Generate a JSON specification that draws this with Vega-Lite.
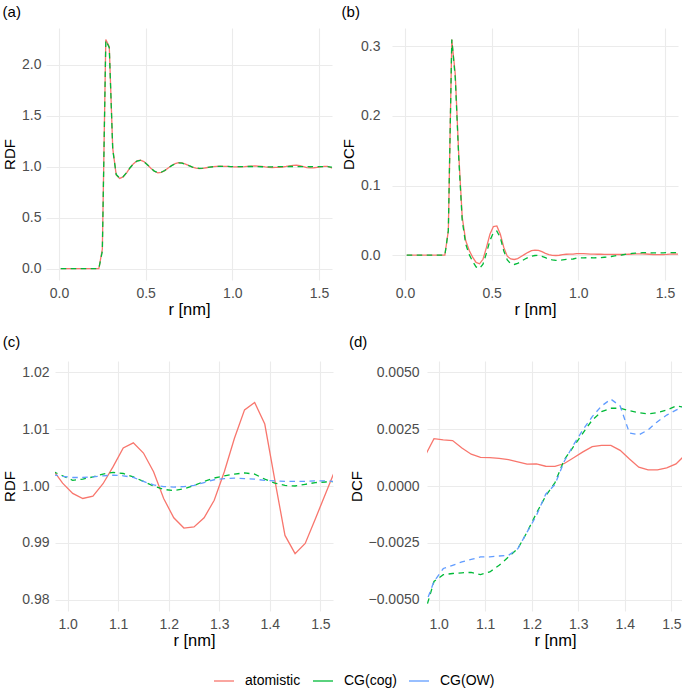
{
"$schema":"https://vega.github.io/schema/vega-lite/v6.json",
"background":"white",
"padding":{"left":1,"top":5,"right":0,"bottom":0},
"datasets":{
"rdf":[
{"r":0.01,"series":"atomistic","value":0},{"r":0.03,"series":"atomistic","value":0},{"r":0.05,"series":"atomistic","value":0},{"r":0.07,"series":"atomistic","value":0},{"r":0.09,"series":"atomistic","value":0},{"r":0.11,"series":"atomistic","value":0},{"r":0.13,"series":"atomistic","value":0},{"r":0.15,"series":"atomistic","value":0},{"r":0.17,"series":"atomistic","value":0},{"r":0.19,"series":"atomistic","value":0},{"r":0.21,"series":"atomistic","value":0},{"r":0.23,"series":"atomistic","value":0},
{"r":0.25,"series":"atomistic","value":0.19},{"r":0.27,"series":"atomistic","value":2.25},{"r":0.29,"series":"atomistic","value":2.18},{"r":0.31,"series":"atomistic","value":1.18},{"r":0.33,"series":"atomistic","value":0.92},{"r":0.35,"series":"atomistic","value":0.885},{"r":0.37,"series":"atomistic","value":0.9},{"r":0.39,"series":"atomistic","value":0.94},{"r":0.41,"series":"atomistic","value":0.99},{"r":0.43,"series":"atomistic","value":1.03},{"r":0.45,"series":"atomistic","value":1.058},{"r":0.47,"series":"atomistic","value":1.065},{"r":0.49,"series":"atomistic","value":1.05},{"r":0.51,"series":"atomistic","value":1.02},{"r":0.53,"series":"atomistic","value":0.985},{"r":0.55,"series":"atomistic","value":0.955},{"r":0.57,"series":"atomistic","value":0.94},{"r":0.59,"series":"atomistic","value":0.945},{"r":0.61,"series":"atomistic","value":0.962},{"r":0.63,"series":"atomistic","value":0.987},{"r":0.65,"series":"atomistic","value":1.012},{"r":0.67,"series":"atomistic","value":1.03},{"r":0.69,"series":"atomistic","value":1.04},{"r":0.71,"series":"atomistic","value":1.037},{"r":0.73,"series":"atomistic","value":1.025},{"r":0.75,"series":"atomistic","value":1.01},{"r":0.77,"series":"atomistic","value":0.996},{"r":0.79,"series":"atomistic","value":0.986},{"r":0.81,"series":"atomistic","value":0.982},{"r":0.83,"series":"atomistic","value":0.984},{"r":0.85,"series":"atomistic","value":0.99},{"r":0.87,"series":"atomistic","value":0.996},{"r":0.89,"series":"atomistic","value":1.001},{"r":0.91,"series":"atomistic","value":1.004},{"r":0.93,"series":"atomistic","value":1.005},{"r":0.95,"series":"atomistic","value":1.004},
{"r":0.97,"series":"atomistic","value":1.003},{"r":0.99,"series":"atomistic","value":1.0005},{"r":1.01,"series":"atomistic","value":0.9987},{"r":1.03,"series":"atomistic","value":0.9978},{"r":1.05,"series":"atomistic","value":0.9982},{"r":1.07,"series":"atomistic","value":1.0004},{"r":1.09,"series":"atomistic","value":1.0034},{"r":1.11,"series":"atomistic","value":1.0067},{"r":1.13,"series":"atomistic","value":1.0076},{"r":1.15,"series":"atomistic","value":1.0058},{"r":1.17,"series":"atomistic","value":1.0025},{"r":1.19,"series":"atomistic","value":0.9978},{"r":1.21,"series":"atomistic","value":0.9944},{"r":1.23,"series":"atomistic","value":0.9926},{"r":1.25,"series":"atomistic","value":0.9928},{"r":1.27,"series":"atomistic","value":0.9944},{"r":1.29,"series":"atomistic","value":0.9975},{"r":1.31,"series":"atomistic","value":1.0025},{"r":1.33,"series":"atomistic","value":1.0084},{"r":1.35,"series":"atomistic","value":1.0134},{"r":1.37,"series":"atomistic","value":1.0147},{"r":1.39,"series":"atomistic","value":1.0109},{"r":1.41,"series":"atomistic","value":1.001},{"r":1.43,"series":"atomistic","value":0.9913},{"r":1.45,"series":"atomistic","value":0.9881},{"r":1.47,"series":"atomistic","value":0.9899},{"r":1.49,"series":"atomistic","value":0.9942},{"r":1.51,"series":"atomistic","value":0.9986},{"r":1.53,"series":"atomistic","value":1.003},{"r":1.55,"series":"atomistic","value":1.004},{"r":1.57,"series":"atomistic","value":0.99},{"r":1.59,"series":"atomistic","value":0.975},
{"r":0.01,"series":"CG(cog)","value":0},{"r":0.03,"series":"CG(cog)","value":0},{"r":0.05,"series":"CG(cog)","value":0},{"r":0.07,"series":"CG(cog)","value":0},{"r":0.09,"series":"CG(cog)","value":0},{"r":0.11,"series":"CG(cog)","value":0},{"r":0.13,"series":"CG(cog)","value":0},{"r":0.15,"series":"CG(cog)","value":0},{"r":0.17,"series":"CG(cog)","value":0},{"r":0.19,"series":"CG(cog)","value":0},{"r":0.21,"series":"CG(cog)","value":0},{"r":0.23,"series":"CG(cog)","value":0},
{"r":0.25,"series":"CG(cog)","value":0.17},{"r":0.27,"series":"CG(cog)","value":2.24},{"r":0.29,"series":"CG(cog)","value":2.17},{"r":0.31,"series":"CG(cog)","value":1.17},{"r":0.33,"series":"CG(cog)","value":0.925},{"r":0.35,"series":"CG(cog)","value":0.887},{"r":0.37,"series":"CG(cog)","value":0.902},{"r":0.39,"series":"CG(cog)","value":0.942},{"r":0.41,"series":"CG(cog)","value":0.99},{"r":0.43,"series":"CG(cog)","value":1.029},{"r":0.45,"series":"CG(cog)","value":1.056},{"r":0.47,"series":"CG(cog)","value":1.063},{"r":0.49,"series":"CG(cog)","value":1.049},{"r":0.51,"series":"CG(cog)","value":1.02},{"r":0.53,"series":"CG(cog)","value":0.986},{"r":0.55,"series":"CG(cog)","value":0.957},{"r":0.57,"series":"CG(cog)","value":0.942},{"r":0.59,"series":"CG(cog)","value":0.946},{"r":0.61,"series":"CG(cog)","value":0.963},{"r":0.63,"series":"CG(cog)","value":0.987},{"r":0.65,"series":"CG(cog)","value":1.011},{"r":0.67,"series":"CG(cog)","value":1.029},{"r":0.69,"series":"CG(cog)","value":1.038},{"r":0.71,"series":"CG(cog)","value":1.035},{"r":0.73,"series":"CG(cog)","value":1.024},{"r":0.75,"series":"CG(cog)","value":1.01},{"r":0.77,"series":"CG(cog)","value":0.997},{"r":0.79,"series":"CG(cog)","value":0.988},{"r":0.81,"series":"CG(cog)","value":0.984},{"r":0.83,"series":"CG(cog)","value":0.986},{"r":0.85,"series":"CG(cog)","value":0.991},{"r":0.87,"series":"CG(cog)","value":0.996},{"r":0.89,"series":"CG(cog)","value":1.0},{"r":0.91,"series":"CG(cog)","value":1.003},{"r":0.93,"series":"CG(cog)","value":1.004},{"r":0.95,"series":"CG(cog)","value":1.004},
{"r":0.97,"series":"CG(cog)","value":1.0026},{"r":0.99,"series":"CG(cog)","value":1.0018},{"r":1.01,"series":"CG(cog)","value":1.001},{"r":1.03,"series":"CG(cog)","value":1.0012},{"r":1.05,"series":"CG(cog)","value":1.0016},{"r":1.07,"series":"CG(cog)","value":1.0021},{"r":1.09,"series":"CG(cog)","value":1.0024},{"r":1.11,"series":"CG(cog)","value":1.0022},{"r":1.13,"series":"CG(cog)","value":1.0016},{"r":1.15,"series":"CG(cog)","value":1.0008},{"r":1.17,"series":"CG(cog)","value":1.0},{"r":1.19,"series":"CG(cog)","value":0.9994},{"r":1.21,"series":"CG(cog)","value":0.9992},{"r":1.23,"series":"CG(cog)","value":0.9995},{"r":1.25,"series":"CG(cog)","value":1.0001},{"r":1.27,"series":"CG(cog)","value":1.0008},{"r":1.29,"series":"CG(cog)","value":1.0014},{"r":1.31,"series":"CG(cog)","value":1.0018},{"r":1.33,"series":"CG(cog)","value":1.0021},{"r":1.35,"series":"CG(cog)","value":1.0023},{"r":1.37,"series":"CG(cog)","value":1.0021},{"r":1.39,"series":"CG(cog)","value":1.0012},{"r":1.41,"series":"CG(cog)","value":1.0005},{"r":1.43,"series":"CG(cog)","value":1.0001},{"r":1.45,"series":"CG(cog)","value":1.0},{"r":1.47,"series":"CG(cog)","value":1.0003},{"r":1.49,"series":"CG(cog)","value":1.0006},{"r":1.51,"series":"CG(cog)","value":1.0007},{"r":1.53,"series":"CG(cog)","value":1.0008},{"r":1.55,"series":"CG(cog)","value":1.0005},{"r":1.57,"series":"CG(cog)","value":0.997},{"r":1.59,"series":"CG(cog)","value":0.99},
{"r":0.97,"series":"CG(OW)","value":1.002},{"r":0.99,"series":"CG(OW)","value":1.0017},{"r":1.01,"series":"CG(OW)","value":1.0015},{"r":1.03,"series":"CG(OW)","value":1.0015},{"r":1.05,"series":"CG(OW)","value":1.0016},{"r":1.07,"series":"CG(OW)","value":1.0018},{"r":1.09,"series":"CG(OW)","value":1.0019},{"r":1.11,"series":"CG(OW)","value":1.0018},{"r":1.13,"series":"CG(OW)","value":1.0015},{"r":1.15,"series":"CG(OW)","value":1.0008},{"r":1.17,"series":"CG(OW)","value":1.0002},{"r":1.19,"series":"CG(OW)","value":0.9999},{"r":1.21,"series":"CG(OW)","value":0.9998},{"r":1.23,"series":"CG(OW)","value":0.9999},{"r":1.25,"series":"CG(OW)","value":1.0001},{"r":1.27,"series":"CG(OW)","value":1.0006},{"r":1.29,"series":"CG(OW)","value":1.0011},{"r":1.31,"series":"CG(OW)","value":1.0013},{"r":1.33,"series":"CG(OW)","value":1.0014},{"r":1.35,"series":"CG(OW)","value":1.0013},{"r":1.37,"series":"CG(OW)","value":1.0012},{"r":1.39,"series":"CG(OW)","value":1.001},{"r":1.41,"series":"CG(OW)","value":1.0009},{"r":1.43,"series":"CG(OW)","value":1.0008},{"r":1.45,"series":"CG(OW)","value":1.0008},{"r":1.47,"series":"CG(OW)","value":1.0008},{"r":1.49,"series":"CG(OW)","value":1.0009},{"r":1.51,"series":"CG(OW)","value":1.0009},{"r":1.53,"series":"CG(OW)","value":1.0008}
],
"dcf":[
{"r":0.01,"series":"atomistic","value":0},{"r":0.03,"series":"atomistic","value":0},{"r":0.05,"series":"atomistic","value":0},{"r":0.07,"series":"atomistic","value":0},{"r":0.09,"series":"atomistic","value":0},{"r":0.11,"series":"atomistic","value":0},{"r":0.13,"series":"atomistic","value":0},{"r":0.15,"series":"atomistic","value":0},{"r":0.17,"series":"atomistic","value":0},{"r":0.19,"series":"atomistic","value":0},{"r":0.21,"series":"atomistic","value":0},{"r":0.23,"series":"atomistic","value":0},
{"r":0.25,"series":"atomistic","value":0.035},{"r":0.27,"series":"atomistic","value":0.31},{"r":0.29,"series":"atomistic","value":0.26},{"r":0.31,"series":"atomistic","value":0.145},{"r":0.33,"series":"atomistic","value":0.055},{"r":0.35,"series":"atomistic","value":0.021},{"r":0.37,"series":"atomistic","value":0.007},{"r":0.39,"series":"atomistic","value":-0.003},{"r":0.41,"series":"atomistic","value":-0.0105},{"r":0.43,"series":"atomistic","value":-0.0125},{"r":0.45,"series":"atomistic","value":-0.006},{"r":0.47,"series":"atomistic","value":0.011},{"r":0.49,"series":"atomistic","value":0.03},{"r":0.51,"series":"atomistic","value":0.041},{"r":0.53,"series":"atomistic","value":0.042},{"r":0.55,"series":"atomistic","value":0.03},{"r":0.57,"series":"atomistic","value":0.011},{"r":0.59,"series":"atomistic","value":-0.0015},{"r":0.61,"series":"atomistic","value":-0.0055},{"r":0.63,"series":"atomistic","value":-0.0063},{"r":0.65,"series":"atomistic","value":-0.005},{"r":0.67,"series":"atomistic","value":-0.002},{"r":0.69,"series":"atomistic","value":0.001},{"r":0.71,"series":"atomistic","value":0.004},{"r":0.73,"series":"atomistic","value":0.0063},{"r":0.75,"series":"atomistic","value":0.0072},{"r":0.77,"series":"atomistic","value":0.0068},{"r":0.79,"series":"atomistic","value":0.005},{"r":0.81,"series":"atomistic","value":0.0025},{"r":0.83,"series":"atomistic","value":0.0008},{"r":0.85,"series":"atomistic","value":-0.0003},{"r":0.87,"series":"atomistic","value":-0.0006},{"r":0.89,"series":"atomistic","value":-0.0002},{"r":0.91,"series":"atomistic","value":0.0006},{"r":0.93,"series":"atomistic","value":0.0012},{"r":0.95,"series":"atomistic","value":0.0014},
{"r":0.97,"series":"atomistic","value":0.0013},{"r":0.99,"series":"atomistic","value":0.00208},{"r":1.01,"series":"atomistic","value":0.00203},{"r":1.03,"series":"atomistic","value":0.002},{"r":1.05,"series":"atomistic","value":0.00167},{"r":1.07,"series":"atomistic","value":0.0014},{"r":1.09,"series":"atomistic","value":0.00126},{"r":1.11,"series":"atomistic","value":0.00125},{"r":1.13,"series":"atomistic","value":0.00122},{"r":1.15,"series":"atomistic","value":0.00116},{"r":1.17,"series":"atomistic","value":0.00106},{"r":1.19,"series":"atomistic","value":0.00096},{"r":1.21,"series":"atomistic","value":0.00097},{"r":1.23,"series":"atomistic","value":0.00087},{"r":1.25,"series":"atomistic","value":0.00086},{"r":1.27,"series":"atomistic","value":0.00099},{"r":1.29,"series":"atomistic","value":0.00124},{"r":1.31,"series":"atomistic","value":0.0015},{"r":1.33,"series":"atomistic","value":0.00173},{"r":1.35,"series":"atomistic","value":0.00179},{"r":1.37,"series":"atomistic","value":0.00179},{"r":1.39,"series":"atomistic","value":0.00157},{"r":1.41,"series":"atomistic","value":0.00119},{"r":1.43,"series":"atomistic","value":0.00083},{"r":1.45,"series":"atomistic","value":0.00071},{"r":1.47,"series":"atomistic","value":0.00071},{"r":1.49,"series":"atomistic","value":0.0008},{"r":1.51,"series":"atomistic","value":0.00097},{"r":1.53,"series":"atomistic","value":0.00138},{"r":1.55,"series":"atomistic","value":0.0016},{"r":1.57,"series":"atomistic","value":0.0015},{"r":1.59,"series":"atomistic","value":0.0013},
{"r":0.01,"series":"CG(cog)","value":0},{"r":0.03,"series":"CG(cog)","value":0},{"r":0.05,"series":"CG(cog)","value":0},{"r":0.07,"series":"CG(cog)","value":0},{"r":0.09,"series":"CG(cog)","value":0},{"r":0.11,"series":"CG(cog)","value":0},{"r":0.13,"series":"CG(cog)","value":0},{"r":0.15,"series":"CG(cog)","value":0},{"r":0.17,"series":"CG(cog)","value":0},{"r":0.19,"series":"CG(cog)","value":0},{"r":0.21,"series":"CG(cog)","value":0},{"r":0.23,"series":"CG(cog)","value":0},
{"r":0.25,"series":"CG(cog)","value":0.035},{"r":0.27,"series":"CG(cog)","value":0.31},{"r":0.29,"series":"CG(cog)","value":0.255},{"r":0.31,"series":"CG(cog)","value":0.14},{"r":0.33,"series":"CG(cog)","value":0.05},{"r":0.35,"series":"CG(cog)","value":0.016},{"r":0.37,"series":"CG(cog)","value":0.001},{"r":0.39,"series":"CG(cog)","value":-0.009},{"r":0.41,"series":"CG(cog)","value":-0.017},{"r":0.43,"series":"CG(cog)","value":-0.0193},{"r":0.45,"series":"CG(cog)","value":-0.013},{"r":0.47,"series":"CG(cog)","value":0.003},{"r":0.49,"series":"CG(cog)","value":0.021},{"r":0.51,"series":"CG(cog)","value":0.032},{"r":0.53,"series":"CG(cog)","value":0.0345},{"r":0.55,"series":"CG(cog)","value":0.025},{"r":0.57,"series":"CG(cog)","value":0.006},{"r":0.59,"series":"CG(cog)","value":-0.007},{"r":0.61,"series":"CG(cog)","value":-0.0125},{"r":0.63,"series":"CG(cog)","value":-0.0135},{"r":0.65,"series":"CG(cog)","value":-0.012},{"r":0.67,"series":"CG(cog)","value":-0.009},{"r":0.69,"series":"CG(cog)","value":-0.006},{"r":0.71,"series":"CG(cog)","value":-0.0035},{"r":0.73,"series":"CG(cog)","value":-0.0015},{"r":0.75,"series":"CG(cog)","value":-0.0006},{"r":0.77,"series":"CG(cog)","value":-0.0005},{"r":0.79,"series":"CG(cog)","value":-0.0017},{"r":0.81,"series":"CG(cog)","value":-0.0037},{"r":0.83,"series":"CG(cog)","value":-0.0057},{"r":0.85,"series":"CG(cog)","value":-0.007},{"r":0.87,"series":"CG(cog)","value":-0.0076},{"r":0.89,"series":"CG(cog)","value":-0.0074},{"r":0.91,"series":"CG(cog)","value":-0.0068},{"r":0.93,"series":"CG(cog)","value":-0.0062},{"r":0.95,"series":"CG(cog)","value":-0.0058},
{"r":0.97,"series":"CG(cog)","value":-0.0056},{"r":0.99,"series":"CG(cog)","value":-0.0042},{"r":1.01,"series":"CG(cog)","value":-0.0039},{"r":1.03,"series":"CG(cog)","value":-0.00385},{"r":1.05,"series":"CG(cog)","value":-0.00382},{"r":1.07,"series":"CG(cog)","value":-0.0038},{"r":1.09,"series":"CG(cog)","value":-0.0039},{"r":1.11,"series":"CG(cog)","value":-0.00378},{"r":1.13,"series":"CG(cog)","value":-0.00349},{"r":1.15,"series":"CG(cog)","value":-0.00312},{"r":1.17,"series":"CG(cog)","value":-0.00276},{"r":1.19,"series":"CG(cog)","value":-0.00203},{"r":1.21,"series":"CG(cog)","value":-0.0012},{"r":1.23,"series":"CG(cog)","value":-0.00044},{"r":1.25,"series":"CG(cog)","value":0.00015},{"r":1.27,"series":"CG(cog)","value":0.00116},{"r":1.29,"series":"CG(cog)","value":0.00174},{"r":1.31,"series":"CG(cog)","value":0.00233},{"r":1.33,"series":"CG(cog)","value":0.0029},{"r":1.35,"series":"CG(cog)","value":0.00327},{"r":1.37,"series":"CG(cog)","value":0.00342},{"r":1.39,"series":"CG(cog)","value":0.00342},{"r":1.41,"series":"CG(cog)","value":0.00331},{"r":1.43,"series":"CG(cog)","value":0.00323},{"r":1.45,"series":"CG(cog)","value":0.00317},{"r":1.47,"series":"CG(cog)","value":0.00323},{"r":1.49,"series":"CG(cog)","value":0.00334},{"r":1.51,"series":"CG(cog)","value":0.00352},{"r":1.53,"series":"CG(cog)","value":0.00346},{"r":1.55,"series":"CG(cog)","value":0.0035},{"r":1.57,"series":"CG(cog)","value":0.0036},{"r":1.59,"series":"CG(cog)","value":0.0036},
{"r":0.97,"series":"CG(OW)","value":-0.0053},{"r":0.99,"series":"CG(OW)","value":-0.0042},{"r":1.01,"series":"CG(OW)","value":-0.00363},{"r":1.03,"series":"CG(OW)","value":-0.00349},{"r":1.05,"series":"CG(OW)","value":-0.00334},{"r":1.07,"series":"CG(OW)","value":-0.00323},{"r":1.09,"series":"CG(OW)","value":-0.00312},{"r":1.11,"series":"CG(OW)","value":-0.00312},{"r":1.13,"series":"CG(OW)","value":-0.00308},{"r":1.15,"series":"CG(OW)","value":-0.00305},{"r":1.17,"series":"CG(OW)","value":-0.00276},{"r":1.19,"series":"CG(OW)","value":-0.00203},{"r":1.21,"series":"CG(OW)","value":-0.0013},{"r":1.23,"series":"CG(OW)","value":-0.00036},{"r":1.25,"series":"CG(OW)","value":0.00007},{"r":1.27,"series":"CG(OW)","value":0.00109},{"r":1.29,"series":"CG(OW)","value":0.00182},{"r":1.31,"series":"CG(OW)","value":0.00247},{"r":1.33,"series":"CG(OW)","value":0.00305},{"r":1.35,"series":"CG(OW)","value":0.00352},{"r":1.37,"series":"CG(OW)","value":0.00382},{"r":1.39,"series":"CG(OW)","value":0.00352},{"r":1.41,"series":"CG(OW)","value":0.00233},{"r":1.43,"series":"CG(OW)","value":0.00225},{"r":1.45,"series":"CG(OW)","value":0.00247},{"r":1.47,"series":"CG(OW)","value":0.00283},{"r":1.49,"series":"CG(OW)","value":0.00312},{"r":1.51,"series":"CG(OW)","value":0.00334},{"r":1.53,"series":"CG(OW)","value":0.00352}
]
},
"config":{
"font":"Liberation Sans",
"view":{"stroke":null},
"axis":{"domain":false,"ticks":false,"grid":true,"gridColor":"#EBEBEB","gridWidth":1.1,"labelFont":"Liberation Sans","labelFontSize":14,"labelColor":"#4D4D4D","labelPadding":7,"labelFlush":false,"labelOverlap":false,"titleFont":"Liberation Sans","titleFontWeight":"normal","titleColor":"#000000","titlePadding":4},
"axisX":{"titleFontSize":16.5,"titlePadding":1.5,"labelPadding":6},
"axisY":{"titleFontSize":15},
"title":{"font":"Liberation Sans","fontSize":15,"fontWeight":"normal","anchor":"start","offset":8,"color":"#000000"},
"line":{"strokeWidth":1.3}
},
"spacing":17,
"vconcat":[
{"spacing":0,"hconcat":[
{"width":1,"height":1,"data":{"values":[]},"mark":{"type":"point","opacity":0}},
{"spacing":9,"hconcat":[
{"title":"(a)","width":286,"height":252,"data":{"name":"rdf"},
"transform":[{"filter":"datum.series !== 'CG(OW)'"}],
"layer":[
{"transform":[{"filter":"false"}],"mark":{"type":"line"},
"encoding":{
"x":{"field":"r","type":"quantitative","scale":{"domain":[-0.075,1.575],"nice":false,"zero":false},"axis":{"values":[0,0.5,1,1.5],"format":".1f","title":"r [nm]"}},
"y":{"field":"value","type":"quantitative","scale":{"domain":[-0.1125,2.3625],"nice":false,"zero":false},"axis":{"values":[0,0.5,1,1.5,2],"format":".1f","title":"RDF","labelPadding":5}},
"color":{"field":"series","type":"nominal","scale":{"domain":["atomistic","CG(cog)","CG(OW)"],"range":["#F8766D","#00BA38","#619CFF"]},
"legend":{"title":null,"orient":"none","legendX":212,"legendY":642,"direction":"horizontal","symbolType":"stroke","symbolSize":400,"symbolStrokeWidth":1.3,"labelFontSize":14,"labelFont":"Liberation Sans","labelColor":"#000000","labelOffset":10,"columnPadding":9,"padding":0}}
}},
{"transform":[{"filter":"datum.series === 'atomistic'"}],"mark":{"type":"line","clip":true},
"encoding":{
"x":{"field":"r","type":"quantitative","scale":{"domain":[-0.075,1.575],"nice":false,"zero":false},"axis":null},
"y":{"field":"value","type":"quantitative","scale":{"domain":[-0.1125,2.3625],"nice":false,"zero":false},"axis":null},
"color":{"field":"series","type":"nominal","scale":{"domain":["atomistic","CG(cog)","CG(OW)"],"range":["#F8766D","#00BA38","#619CFF"]},"legend":null}
}},
{"transform":[{"filter":"datum.series !== 'atomistic'"}],"mark":{"type":"line","clip":true,"strokeDash":[5.5,4.5]},
"encoding":{
"x":{"field":"r","type":"quantitative","scale":{"domain":[-0.075,1.575],"nice":false,"zero":false},"axis":null},
"y":{"field":"value","type":"quantitative","scale":{"domain":[-0.1125,2.3625],"nice":false,"zero":false},"axis":null},
"color":{"field":"series","type":"nominal","scale":{"domain":["atomistic","CG(cog)","CG(OW)"],"range":["#F8766D","#00BA38","#619CFF"]},"legend":null}
}},
{"mark":{"type":"point","opacity":0,"clip":true},
"encoding":{
"x":{"field":"r","type":"quantitative","scale":{"domain":[-0.075,1.575],"nice":false,"zero":false},"axis":{"orient":"top","values":[0.25,0.75,1.25],"labels":false,"title":null,"gridWidth":0.55}},
"y":{"field":"value","type":"quantitative","scale":{"domain":[-0.1125,2.3625],"nice":false,"zero":false},"axis":{"orient":"right","values":[0.25,0.75,1.25,1.75,2.25],"labels":false,"title":null,"gridWidth":0.55}}
}}
],
"resolve":{"axis":{"x":"independent","y":"independent"}}
},
{"title":"(b)","width":286,"height":252,"data":{"name":"dcf"},
"transform":[{"filter":"datum.series !== 'CG(OW)'"}],
"layer":[
{"transform":[{"filter":"false"}],"mark":{"type":"line"},
"encoding":{
"x":{"field":"r","type":"quantitative","scale":{"domain":[-0.075,1.575],"nice":false,"zero":false},"axis":{"values":[0,0.5,1,1.5],"format":".1f","title":"r [nm]"}},
"y":{"field":"value","type":"quantitative","scale":{"domain":[-0.0358,0.3265],"nice":false,"zero":false},"axis":{"values":[0,0.1,0.2,0.3],"format":".1f","title":"DCF","labelPadding":12}},
"color":{"field":"series","type":"nominal","scale":{"domain":["atomistic","CG(cog)","CG(OW)"],"range":["#F8766D","#00BA38","#619CFF"]},"legend":{"title":null,"orient":"none","legendX":212,"legendY":642,"direction":"horizontal","symbolType":"stroke","symbolSize":400,"symbolStrokeWidth":1.3,"labelFontSize":14,"labelFont":"Liberation Sans","labelColor":"#000000","labelOffset":10,"columnPadding":9,"padding":0}}
}},
{"transform":[{"filter":"datum.series === 'atomistic'"}],"mark":{"type":"line","clip":true},
"encoding":{
"x":{"field":"r","type":"quantitative","scale":{"domain":[-0.075,1.575],"nice":false,"zero":false},"axis":null},
"y":{"field":"value","type":"quantitative","scale":{"domain":[-0.0358,0.3265],"nice":false,"zero":false},"axis":null},
"color":{"field":"series","type":"nominal","scale":{"domain":["atomistic","CG(cog)","CG(OW)"],"range":["#F8766D","#00BA38","#619CFF"]},"legend":null}
}},
{"transform":[{"filter":"datum.series !== 'atomistic'"}],"mark":{"type":"line","clip":true,"strokeDash":[5.5,4.5]},
"encoding":{
"x":{"field":"r","type":"quantitative","scale":{"domain":[-0.075,1.575],"nice":false,"zero":false},"axis":null},
"y":{"field":"value","type":"quantitative","scale":{"domain":[-0.0358,0.3265],"nice":false,"zero":false},"axis":null},
"color":{"field":"series","type":"nominal","scale":{"domain":["atomistic","CG(cog)","CG(OW)"],"range":["#F8766D","#00BA38","#619CFF"]},"legend":null}
}},
{"mark":{"type":"point","opacity":0,"clip":true},
"encoding":{
"x":{"field":"r","type":"quantitative","scale":{"domain":[-0.075,1.575],"nice":false,"zero":false},"axis":{"orient":"top","values":[0.25,0.75,1.25],"labels":false,"title":null,"gridWidth":0.55}},
"y":{"field":"value","type":"quantitative","scale":{"domain":[-0.0358,0.3265],"nice":false,"zero":false},"axis":{"orient":"right","values":[0.05,0.15,0.25],"labels":false,"title":null,"gridWidth":0.55}}
}}
],
"resolve":{"axis":{"x":"independent","y":"independent"}}
}
]}
]},
{"spacing":0,"hconcat":[
{"width":1,"height":1,"data":{"values":[]},"mark":{"type":"point","opacity":0}},
{"spacing":16,"hconcat":[
{"title":{"text":"(c)","offset":11},"width":278,"height":250,"data":{"name":"rdf"},
"transform":[{"filter":"datum.r >= 0.96 && datum.r <= 1.54"}],
"layer":[
{"transform":[{"filter":"false"}],"mark":{"type":"line"},
"encoding":{
"x":{"field":"r","type":"quantitative","scale":{"domain":[0.975,1.525],"nice":false,"zero":false},"axis":{"values":[1,1.1,1.2,1.3,1.4,1.5],"format":".1f","title":"r [nm]"}},
"y":{"field":"value","type":"quantitative","scale":{"domain":[0.978,1.022],"nice":false,"zero":false},"axis":{"values":[0.98,0.99,1,1.01,1.02],"format":".2f","title":"RDF","labelPadding":6}},
"color":{"field":"series","type":"nominal","scale":{"domain":["atomistic","CG(cog)","CG(OW)"],"range":["#F8766D","#00BA38","#619CFF"]},"legend":{"title":null,"orient":"none","legendX":212,"legendY":642,"direction":"horizontal","symbolType":"stroke","symbolSize":400,"symbolStrokeWidth":1.3,"labelFontSize":14,"labelFont":"Liberation Sans","labelColor":"#000000","labelOffset":10,"columnPadding":9,"padding":0}}
}},
{"transform":[{"filter":"datum.series === 'atomistic'"}],"mark":{"type":"line","clip":true},
"encoding":{
"x":{"field":"r","type":"quantitative","scale":{"domain":[0.975,1.525],"nice":false,"zero":false},"axis":null},
"y":{"field":"value","type":"quantitative","scale":{"domain":[0.978,1.022],"nice":false,"zero":false},"axis":null},
"color":{"field":"series","type":"nominal","scale":{"domain":["atomistic","CG(cog)","CG(OW)"],"range":["#F8766D","#00BA38","#619CFF"]},"legend":null}
}},
{"transform":[{"filter":"datum.series !== 'atomistic'"}],"mark":{"type":"line","clip":true,"strokeDash":[5.5,4.5]},
"encoding":{
"x":{"field":"r","type":"quantitative","scale":{"domain":[0.975,1.525],"nice":false,"zero":false},"axis":null},
"y":{"field":"value","type":"quantitative","scale":{"domain":[0.978,1.022],"nice":false,"zero":false},"axis":null},
"color":{"field":"series","type":"nominal","scale":{"domain":["atomistic","CG(cog)","CG(OW)"],"range":["#F8766D","#00BA38","#619CFF"]},"legend":null}
}},
{"mark":{"type":"point","opacity":0,"clip":true},
"encoding":{
"x":{"field":"r","type":"quantitative","scale":{"domain":[0.975,1.525],"nice":false,"zero":false},"axis":{"orient":"top","values":[1.05,1.15,1.25,1.35,1.45],"labels":false,"title":null,"gridWidth":0.55}},
"y":{"field":"value","type":"quantitative","scale":{"domain":[0.978,1.022],"nice":false,"zero":false},"axis":{"orient":"right","values":[0.985,0.995,1.005,1.015],"labels":false,"title":null,"gridWidth":0.55}}
}}
],
"resolve":{"axis":{"x":"independent","y":"independent"}}
},
{"title":{"text":"(d)","offset":11},"width":256,"height":250,"data":{"name":"dcf"},
"transform":[{"filter":"datum.r >= 0.96 && datum.r <= 1.54"}],
"layer":[
{"transform":[{"filter":"false"}],"mark":{"type":"line"},
"encoding":{
"x":{"field":"r","type":"quantitative","scale":{"domain":[0.975,1.525],"nice":false,"zero":false},"axis":{"values":[1,1.1,1.2,1.3,1.4,1.5],"format":".1f","title":"r [nm]"}},
"y":{"field":"value","type":"quantitative","scale":{"domain":[-0.0055,0.0055],"nice":false,"zero":false},"axis":{"values":[-0.005,-0.0025,0,0.0025,0.005],"format":".4f","labelExpr":"replace(datum.label, '-', '\u2212')","title":"DCF","labelPadding":8}},
"color":{"field":"series","type":"nominal","scale":{"domain":["atomistic","CG(cog)","CG(OW)"],"range":["#F8766D","#00BA38","#619CFF"]},"legend":{"title":null,"orient":"none","legendX":212,"legendY":642,"direction":"horizontal","symbolType":"stroke","symbolSize":400,"symbolStrokeWidth":1.3,"labelFontSize":14,"labelFont":"Liberation Sans","labelColor":"#000000","labelOffset":10,"columnPadding":9,"padding":0}}
}},
{"transform":[{"filter":"datum.series === 'atomistic'"}],"mark":{"type":"line","clip":true},
"encoding":{
"x":{"field":"r","type":"quantitative","scale":{"domain":[0.975,1.525],"nice":false,"zero":false},"axis":null},
"y":{"field":"value","type":"quantitative","scale":{"domain":[-0.0055,0.0055],"nice":false,"zero":false},"axis":null},
"color":{"field":"series","type":"nominal","scale":{"domain":["atomistic","CG(cog)","CG(OW)"],"range":["#F8766D","#00BA38","#619CFF"]},"legend":null}
}},
{"transform":[{"filter":"datum.series !== 'atomistic'"}],"mark":{"type":"line","clip":true,"strokeDash":[5.5,4.5]},
"encoding":{
"x":{"field":"r","type":"quantitative","scale":{"domain":[0.975,1.525],"nice":false,"zero":false},"axis":null},
"y":{"field":"value","type":"quantitative","scale":{"domain":[-0.0055,0.0055],"nice":false,"zero":false},"axis":null},
"color":{"field":"series","type":"nominal","scale":{"domain":["atomistic","CG(cog)","CG(OW)"],"range":["#F8766D","#00BA38","#619CFF"]},"legend":null}
}},
{"mark":{"type":"point","opacity":0,"clip":true},
"encoding":{
"x":{"field":"r","type":"quantitative","scale":{"domain":[0.975,1.525],"nice":false,"zero":false},"axis":{"orient":"top","values":[1.05,1.15,1.25,1.35,1.45],"labels":false,"title":null,"gridWidth":0.55}},
"y":{"field":"value","type":"quantitative","scale":{"domain":[-0.0055,0.0055],"nice":false,"zero":false},"axis":{"orient":"right","values":[-0.00375,-0.00125,0.00125,0.00375],"labels":false,"title":null,"gridWidth":0.55}}
}}
],
"resolve":{"axis":{"x":"independent","y":"independent"}}
}
]}
]}
]
}
